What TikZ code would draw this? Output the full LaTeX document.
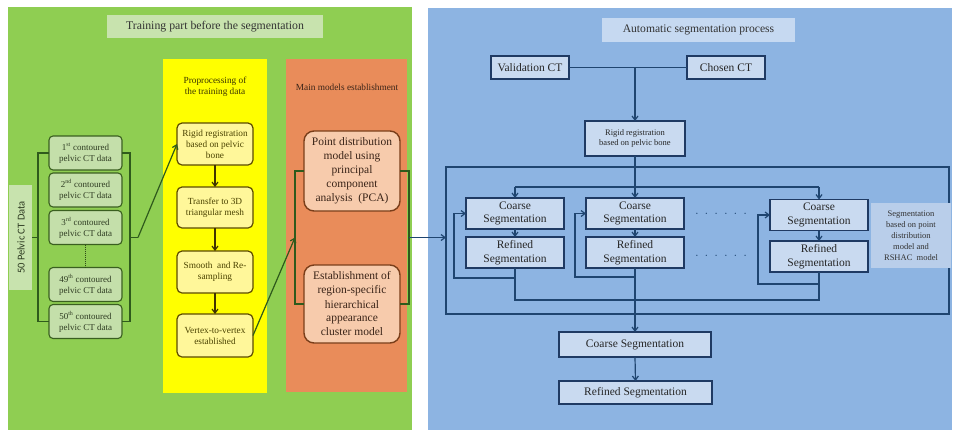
\documentclass[tikz,border=0pt]{standalone}
\usepackage{fontspec}
\setmainfont{Liberation Serif}
\newfontfamily\calibfont{Carlito}
\usetikzlibrary{arrows.meta}
\definecolor{grbg}{HTML}{8FCE52}
\definecolor{gtitle}{HTML}{C8E3AE}
\definecolor{dfill}{HTML}{C4DFAA}
\definecolor{dbord}{HTML}{3A5F20}
\definecolor{dtext}{HTML}{2E3B22}
\definecolor{brk}{HTML}{2F5A1C}
\definecolor{ybg}{HTML}{FFFF00}
\definecolor{yfill}{HTML}{FFF79A}
\definecolor{ybord}{HTML}{5C4A00}
\definecolor{ytext}{HTML}{4A4200}
\definecolor{obg}{HTML}{E98C5A}
\definecolor{ofill}{HTML}{F7CBAC}
\definecolor{obord}{HTML}{7A3E1A}
\definecolor{otext}{HTML}{3A2418}
\definecolor{bbg}{HTML}{8DB4E2}
\definecolor{btitle}{HTML}{C6D9F1}
\definecolor{bfill}{HTML}{C9DAF0}
\definecolor{bbord}{HTML}{1F3A63}
\definecolor{segfill}{HTML}{B9CEEA}
\definecolor{bline}{HTML}{1F4570}
\begin{document}
\begin{tikzpicture}[x=1pt,y=-1pt,
  every node/.style={inner sep=0pt,outer sep=0pt},
  arr/.style={-{Straight Barb[length=4pt,width=6pt]}},
  brkline/.style={draw=brk,line width=1.2pt},
  blueline/.style={draw=bline,line width=1.2pt},
  databox/.style={draw=dbord,line width=1.1pt,fill=dfill,rounded corners=4pt,
    minimum width=73pt,minimum height=34pt,align=center,
    font=\fontsize{9}{11}\selectfont,text=dtext},
  ybox/.style={draw=ybord,line width=1.2pt,fill=yfill,rounded corners=5pt,
    minimum width=76pt,align=center,font=\fontsize{9.3}{11}\selectfont,text=ytext},
  obox/.style={draw=obord,line width=1.4pt,fill=ofill,rounded corners=10pt,
    minimum width=96pt,align=center,font=\fontsize{11.5}{14}\selectfont,text=otext},
  bbox/.style={draw=bbord,line width=1.2pt,fill=bfill,align=center,text=black!85},
  segbox/.style={bbox,minimum width=98pt,minimum height=31pt,font=\fontsize{11.5}{13.5}\selectfont},
]
\useasboundingbox (0,0) rectangle (956,432);
\fill[white] (0,0) rectangle (956,432);
% panels
\fill[grbg] (8,7) rectangle (412,430);
\fill[ybg] (163,59) rectangle (267,393);
\fill[obg] (286,59) rectangle (407,392);
\fill[bbg] (428,8) rectangle (952,430);

% ---------- left (training) ----------
\node[fill=gtitle,minimum width=216pt,minimum height=23pt,font=\fontsize{11.8}{13}\selectfont,text=black!80] (gtitle) at (215,26.5) {Training part before the segmentation};
\node[fill=gtitle,minimum width=23pt,minimum height=105pt] (pelvicbox) at (20.5,237.5) {};
\node[rotate=90,font=\calibfont\fontsize{10.5}{12}\selectfont,text=dtext] (pelvic) at (21,237.5) {50 Pelvic CT Data};

\node[databox] (d1) at (85.5,153) {1\textsuperscript{st} contoured\\pelvic CT data};
\node[databox] (d2) at (85.5,190) {2\textsuperscript{nd} contoured\\pelvic CT data};
\node[databox] (d3) at (85.5,227.5) {3\textsuperscript{rd} contoured\\pelvic CT data};
\node[databox] (d49) at (85.5,284.5) {49\textsuperscript{th} contoured\\pelvic CT data};
\node[databox] (d50) at (85.5,321.5) {50\textsuperscript{th} contoured\\pelvic CT data};
\draw[dbord!80!black,line width=1.8pt,dash pattern=on 1pt off 1pt] (d3.south) -- (d49.north);

\coordinate (lb) at (38,237.5);
\coordinate (rb) at (130,237.5);
\coordinate (rbs) at (138,237.5);
\draw[brkline] (pelvicbox.east) -- (lb);
\draw[brkline] (d1.west) -| (lb) |- (d50.west);
\draw[brkline] (d1.east) -| (rb) |- (d50.east);
\draw[brkline] (rb) -- (rbs);

% yellow column
\node[font=\fontsize{9.3}{11}\selectfont,text=ytext!80!black,align=center] (yhead) at (215,86.5) {Proprocessing of\\the training data};
\node[ybox,minimum height=42pt] (y1) at (215,144) {Rigid registration\\based on pelvic\\bone};
\node[ybox,minimum height=41pt] (y2) at (215,207.5) {Transfer to 3D\\triangular mesh};
\node[ybox,minimum height=42pt] (y3) at (215,272) {Smooth\enspace and Re-\\sampling};
\node[ybox,minimum height=43pt] (y4) at (215,335.5) {Vertex-to-vertex\\established};
\draw[brkline,draw=ybord!70!black,arr] (y1) -- (y2);
\draw[brkline,draw=ybord!70!black,arr] (y2) -- (y3);
\draw[brkline,draw=ybord!70!black,arr] (y3) -- (y4);
\draw[brkline,arr] (rbs) -- (y1.west);

% orange column
\node[font=\fontsize{9.3}{11}\selectfont,text=otext] (ohead) at (347,87) {Main models establishment};
\node[obox,minimum height=80pt] (pca) at (352,171) {Point distribution\\model using\\principal\\component\\analysis\enspace(PCA)};
\node[obox,minimum height=78pt] (est) at (352,304) {Establishment of\\region-specific\\hierarchical\\appearance\\cluster model};
\coordinate (olb) at (295,237.5);
\coordinate (orb) at (409,237.5);
\draw[brkline] (pca.west) -| (olb) |- (est.west);
\draw[brkline] (pca.east) -| (orb) |- (est.east);
\draw[brkline,arr] (y4.east) -- (olb);

% ---------- right (automatic segmentation) ----------
\node[fill=btitle,minimum width=193pt,minimum height=24pt,font=\fontsize{11.6}{13}\selectfont,text=black!80] (btitle) at (698.5,30) {Automatic segmentation process};
\node[bbox,minimum width=78pt,minimum height=23pt,font=\fontsize{11.5}{13}\selectfont] (val) at (530,67.5) {Validation CT};
\node[bbox,minimum width=78pt,minimum height=23pt,font=\fontsize{11.5}{13}\selectfont] (cho) at (726,67.5) {Chosen CT};
\node[bbox,minimum width=100pt,minimum height=35pt,font=\fontsize{8.5}{10.5}\selectfont] (rig) at (635,138.5) {Rigid registration\\based on pelvic bone};
\draw[blueline] (val.east) -- (cho.west);
\draw[blueline,arr] (val.east -| rig.north) -- (rig.north);

\node[draw=bline,line width=1.3pt,minimum width=503pt,minimum height=147pt] (outer) at (697.5,240.5) {};
\node[fill=segfill,minimum width=80pt,minimum height=65pt,align=center,font=\fontsize{8.5}{11}\selectfont,text=black!80] (segtxt) at (911,235.5) {Segmentation\\based on point\\distribution\\model and\\RSHAC\enspace model};

\node[segbox] (c1) at (515,213.5) {Coarse\\Segmentation};
\node[segbox] (r1) at (515,252.5) {Refined\\Segmentation};
\node[segbox] (c2) at (635,213.5) {Coarse\\Segmentation};
\node[segbox] (r2) at (635,252.5) {Refined\\Segmentation};
\node[segbox] (c3) at (819,215) {Coarse\\Segmentation};
\node[segbox] (r3) at (819,256.5) {Refined\\Segmentation};
\node[font=\fontsize{11}{13}\selectfont,text=bline] (dotsA) at (721,215) {·\kern6pt·\kern6pt·\kern6pt·\kern6pt·\kern6pt·};
\node[font=\fontsize{11}{13}\selectfont,text=bline] (dotsB) at (721,257) {·\kern6pt·\kern6pt·\kern6pt·\kern6pt·\kern6pt·};

\draw[blueline,arr] (orb) -- (orb -| outer.west);
\draw[blueline,arr] (rig.south) -- (c2.north);
\coordinate (dist1) at (515,187);
\coordinate (dist3) at (819,187);
\draw[blueline] (dist1) -- (dist3);
\draw[blueline,arr] (dist1) -- (c1.north);
\draw[blueline,arr] (dist3) -- (c3.north);
\draw[blueline,arr] (c1.south) -- (r1.north);
\draw[blueline,arr] (c2.south) -- (r2.north);
\draw[blueline,arr] (c3.south) -- (r3.north);
\draw[blueline,arr] (r1.south) -- ++(0,10) -| ([xshift=-12pt]c1.west) -- (c1.west);
\draw[blueline,arr] (r2.south) -- ++(0,9) -| ([xshift=-11pt]c2.west) -- (c2.west);
\draw[blueline,arr] (r3.south) -- ++(0,12) -| ([xshift=-12pt]c3.west) -- (c3.west);
\draw[blueline] (r1.south) -- ++(0,32) -| (r3.south);

\node[bbox,minimum width=152pt,minimum height=25pt,font=\fontsize{11.5}{13}\selectfont] (bc) at (635,344.5) {Coarse Segmentation};
\node[bbox,minimum width=153pt,minimum height=23pt,font=\fontsize{11.5}{13}\selectfont] (br) at (635.5,392.5) {Refined Segmentation};
\draw[blueline,arr] (r2.south) -- (bc.north);
\draw[blueline,arr] (bc.south) -- (br.north);
\end{tikzpicture}
\end{document}
